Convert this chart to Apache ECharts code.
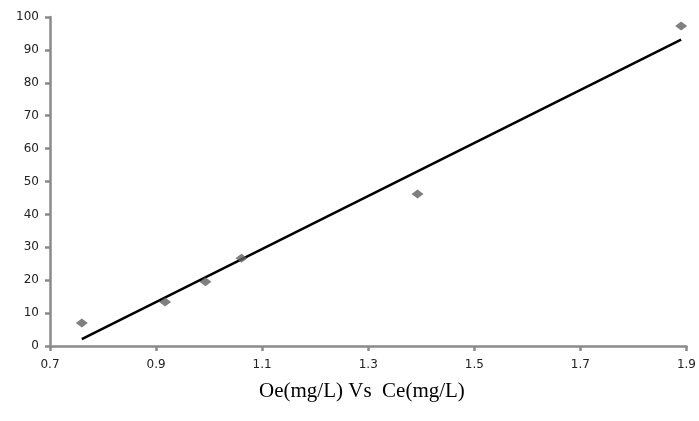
<!DOCTYPE html>
<html><head><meta charset="utf-8">
<script src="https://cdn.jsdelivr.net/npm/echarts@6/dist/echarts.min.js"></script>
<style>html,body{margin:0;padding:0;background:#fff}#c{width:699px;height:421px}</style>
</head><body><div id="c"></div>
<script>
const ceValues = [0.76, 0.917, 0.993, 1.061, 1.393, 1.89];
const oeValues = [7.0, 13.4, 19.5, 26.7, 46.2, 97.3];
const xTicks = [0.7, 0.9, 1.1, 1.3, 1.5, 1.7, 1.9];
const yTicks = [0, 10, 20, 30, 40, 50, 60, 70, 80, 90, 100];
const titleText = 'Oe(mg/L) Vs  Ce(mg/L)';

// linear least-squares trendline from the data
const n = ceValues.length;
const mx = ceValues.reduce((a,b)=>a+b,0)/n;
const my = oeValues.reduce((a,b)=>a+b,0)/n;
let sxy=0, sxx=0;
for (let i=0;i<n;i++){ sxy+=(ceValues[i]-mx)*(oeValues[i]-my); sxx+=(ceValues[i]-mx)**2; }
const slope = sxy/sxx, icpt = my - slope*mx;
const xmin = Math.min(...ceValues), xmax = Math.max(...ceValues);
const trend = [[xmin, icpt+slope*xmin],[xmax, icpt+slope*xmax]];

const axisCol = '#8a8a8a';
const chart = echarts.init(document.getElementById('c'));
chart.setOption({
  animation:false,
  title:{text:titleText,left:254,top:376,textStyle:{fontFamily:'Liberation Serif',fontSize:21,fontWeight:'normal',color:'#000'}},
  grid:{left:50,right:7,top:17,bottom:75},
  xAxis:{type:'value',min:xTicks[0],max:xTicks[xTicks.length-1],interval:0.2,
    axisLine:{show:true,lineStyle:{color:axisCol,width:2.5}},
    axisTick:{show:true,length:5,lineStyle:{color:axisCol,width:2.5}},
    axisLabel:{margin:13,color:'#222',fontFamily:'DejaVu Sans',fontSize:12,formatter:v=>(+v.toFixed(1)).toString()},
    splitLine:{show:false}},
  yAxis:{type:'value',min:yTicks[0],max:yTicks[yTicks.length-1],interval:10,
    axisLine:{show:true,lineStyle:{color:axisCol,width:2.5}},
    axisTick:{show:true,length:5,lineStyle:{color:axisCol,width:2.5}},
    axisLabel:{margin:11,color:'#222',fontFamily:'DejaVu Sans',fontSize:12},
    splitLine:{show:false}},
  series:[
    {type:'line',data:trend,symbol:'none',lineStyle:{color:'#000',width:2.5},z:2},
    {type:'scatter',data:ceValues.map((x,i)=>[x,oeValues[i]]),symbol:'diamond',symbolSize:[12,9],itemStyle:{color:'#5f5f5f'},z:3}
  ]
});
</script></body></html>
